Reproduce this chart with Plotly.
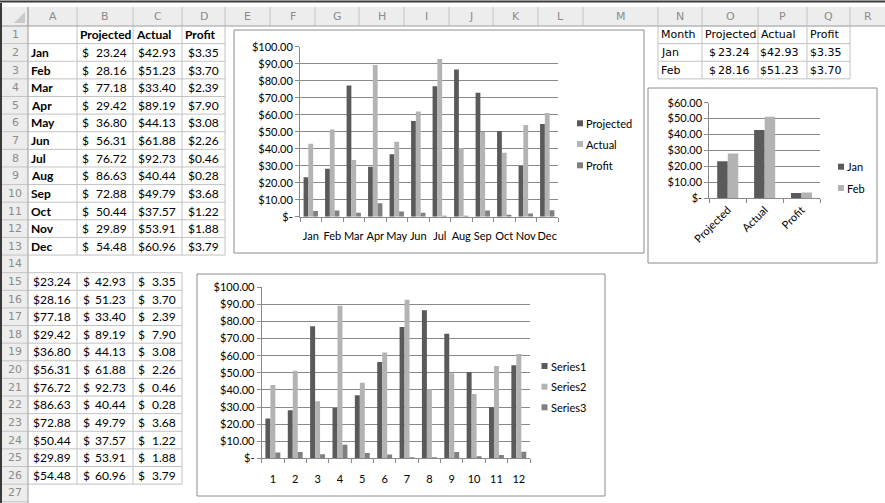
import plotly.graph_objects as go

W, H = 885, 503

# ---------------------------------------------------------------------------------
# data read from the sheet
# ---------------------------------------------------------------------------------
months = ["Jan", "Feb", "Mar", "Apr", "May", "Jun", "Jul", "Aug", "Sep", "Oct", "Nov", "Dec"]
projected = [23.24, 28.16, 77.18, 29.42, 36.80, 56.31, 76.72, 86.63, 72.88, 50.44, 29.89, 54.48]
actual = [42.93, 51.23, 33.40, 89.19, 44.13, 61.88, 92.73, 40.44, 49.79, 37.57, 53.91, 60.96]
profit = [3.35, 3.70, 2.39, 7.90, 3.08, 2.26, 0.46, 0.28, 3.68, 1.22, 1.88, 3.79]
measures = ["Projected", "Actual", "Profit"]
month_numbers = ["1", "2", "3", "4", "5", "6", "7", "8", "9", "10", "11", "12"]
series_names = ["Series1", "Series2", "Series3"]
col_letters = ["A", "B", "C", "D", "E", "F", "G", "H", "I", "J", "K", "L", "M", "N", "O", "P", "Q", "R"]
ticks_100 = [0, 10, 20, 30, 40, 50, 60, 70, 80, 90, 100]
ticks_60 = [0, 10, 20, 30, 40, 50, 60]

# ---------------------------------------------------------------------------------
# sheet geometry (pixels)
# ---------------------------------------------------------------------------------
col_edges = [2, 28, 77, 133, 182, 225, 270, 315, 359, 404, 449, 493, 538, 583, 658, 702, 758, 807, 850, 885]
HDR_TOP, ROW0, ROW_H = 7, 26, 17.62
CELL_FONT = "Lato"
NQ_FONT = "DejaVu Sans"
series_colors = ["#5a5a5a", "#b3b3b3", "#808080"]


def px(x):
    return x / W


def py(y):
    return 1 - y / H


def row_top(n):
    return ROW0 + (n - 1) * ROW_H


def row_mid(n):
    return row_top(n) + ROW_H / 2


shapes = []
annotations = []


def line(x0, y0, x1, y1, color, width=1):
    shapes.append(dict(type="line", xref="paper", yref="paper", x0=px(x0), y0=py(y0), x1=px(x1), y1=py(y1),
                       line=dict(color=color, width=width), layer="below"))


def rect(x0, y0, x1, y1, fill, color=None, width=0):
    shapes.append(dict(type="rect", xref="paper", yref="paper", x0=px(x0), y0=py(y0), x1=px(x1), y1=py(y1),
                       fillcolor=fill, line=dict(color=color or fill, width=width), layer="below"))


def text(x, y, s, anchor="left", size=12, color="#000000", weight="normal", family=CELL_FONT):
    annotations.append(dict(xref="paper", yref="paper", x=px(x), y=py(y), text=s, showarrow=False,
                            xanchor=anchor, yanchor="middle", borderpad=0,
                            font=dict(family=family, size=size, color=color, weight=weight)))


# ---------------------------------------------------------------------------------
# sheet frame: headers and borders
# ---------------------------------------------------------------------------------
rect(0, 0, W, H, "#ffffff")
line(0, 1.5, W, 1.5, "#3a3a3a", 2)
line(1, 3, 1, H, "#3a3a3a", 2)
rect(2, HDR_TOP, W, ROW0, "#ededed")
rect(2, ROW0, 28, H, "#ededed")
shapes.append(dict(type="path", xref="paper", yref="paper",
                   path=f"M {px(25)},{py(23)} L {px(25)},{py(12)} L {px(14)},{py(23)} Z",
                   fillcolor="#c9c9c9", line=dict(width=0), layer="below"))
for ce in col_edges[1:-1]:
    line(ce, HDR_TOP, ce, ROW0, "#c4c4c4")
for i, letter in enumerate(col_letters):
    text((col_edges[i + 1] + col_edges[i + 2]) / 2, (HDR_TOP + ROW0) / 2, letter, "center", 11, "#8c8c8c",
         family="DejaVu Sans")
for n in range(1, 28):
    line(2, row_top(n) + ROW_H, 28, row_top(n) + ROW_H, "#c4c4c4")
    text(15, row_mid(n), str(n), "center", 11, "#8c8c8c", family="DejaVu Sans")
line(2, ROW0, W, ROW0, "#9c9c9c")
line(28, HDR_TOP, 28, H, "#9c9c9c")

border = "#c2c2c2"
# A1:D13
for n in range(1, 14):
    line(28, row_top(n) + ROW_H, 225, row_top(n) + ROW_H, border)
for ce in [77, 133, 182, 225]:
    line(ce, ROW0, ce, row_top(14), border)
# A15:C26
for n in range(14, 27):
    line(28, row_top(n) + ROW_H, 182, row_top(n) + ROW_H, border)
for ce in [77, 133, 182]:
    line(ce, row_top(15), ce, row_top(27), border)
# N1:Q3
for n in range(0, 4):
    line(658, ROW0 + n * ROW_H, 850, ROW0 + n * ROW_H, border)
for ce in [658, 702, 758, 807, 850]:
    line(ce, ROW0, ce, row_top(4), border)

# ---------------------------------------------------------------------------------
# cell contents
# ---------------------------------------------------------------------------------
for lbl, x in zip(measures, [79, 135, 184]):
    text(x, row_mid(1), lbl, "left", 12, weight="bold")
for i, m in enumerate(months):
    r = i + 2
    text(30, row_mid(r), m, "left", 12, weight="bold")
    text(81, row_mid(r), "$", "left", 12)
    text(128, row_mid(r), f"{projected[i]:.2f}", "right", 12)
    text(177, row_mid(r), f"${actual[i]:.2f}", "right", 12)
    text(220, row_mid(r), f"${profit[i]:.2f}", "right", 12)
for i in range(12):
    r = i + 15
    text(72, row_mid(r), f"${projected[i]:.2f}", "right", 12)
    text(82, row_mid(r), "$", "left", 12)
    text(127, row_mid(r), f"{actual[i]:.2f}", "right", 12)
    text(137, row_mid(r), "$", "left", 12)
    text(177, row_mid(r), f"{profit[i]:.2f}", "right", 12)
for lbl, x in zip(["Month"] + measures, [660, 704, 760, 809]):
    text(x, row_mid(1), lbl, "left", 11, family=NQ_FONT)
for i in range(2):
    r = i + 2
    text(660, row_mid(r), months[i], "left", 11, family=NQ_FONT)
    text(708, row_mid(r), "$", "left", 11, family=NQ_FONT)
    text(751, row_mid(r), f"{projected[i]:.2f}", "right", 11, family=NQ_FONT)
    text(800, row_mid(r), f"${actual[i]:.2f}", "right", 11, family=NQ_FONT)
    text(843, row_mid(r), f"${profit[i]:.2f}", "right", 11, family=NQ_FONT)

# ---------------------------------------------------------------------------------
# charts
# ---------------------------------------------------------------------------------
GRID = "#8a8a8a"
CHART_FONT = dict(family="Lato", size=11, color="#000000")

fig = go.Figure()


def add_group(xs, values_list, names, xa, ya, gap):
    n = len(values_list)
    w = 1 / (n + gap)
    for k, (vals, name) in enumerate(zip(values_list, names)):
        fig.add_trace(go.Bar(x=xs, y=vals, name=name, xaxis=xa, yaxis=ya, width=w,
                             offset=-n * w / 2 + k * w, marker=dict(color=series_colors[k], line=dict(width=0)),
                             showlegend=False))


def chart_box(x0, y0, x1, y1):
    rect(x0, y0, x1, y1, "#ffffff", "#8c8c8c", 1)


def legend(x, ys, names):
    for k, (yy, name) in enumerate(zip(ys, names)):
        rect(x, yy - 3, x + 6, yy + 3, series_colors[k])
        text(x + 8, yy, name, "left", 11, family="Lato")


def y_ticks(vals):
    return [("$-" if v == 0 else f"${v:.2f}") for v in vals]


axis_common = dict(showline=True, linecolor=GRID, linewidth=1, ticks="outside", tickcolor=GRID, ticklen=4,
                   tickfont=CHART_FONT, fixedrange=True, automargin=False)

# chart 1: by month
chart_box(234, 30, 644, 253)
add_group(months, [projected, actual, profit], measures, "x", "y", 1.5)
legend(577, [123.3, 144, 165.3], measures)
# chart 2: by number
chart_box(197, 274, 605, 496)
add_group(month_numbers, [projected, actual, profit], series_names, "x2", "y2", 1.5)
legend(541.5, [366, 386.7, 407.3], series_names)
# chart 3: Jan / Feb by measure
chart_box(648, 88, 877, 263)
jan = [projected[0], actual[0], profit[0]]
feb = [projected[1], actual[1], profit[1]]
add_group(measures, [jan, feb], months[:2], "x3", "y3", 1.5)
legend(838, [166.7, 188], months[:2])

fig.update_layout(
    width=W, height=H, margin=dict(l=0, r=0, t=0, b=0, pad=0, autoexpand=False),
    paper_bgcolor="#ffffff", plot_bgcolor="rgba(0,0,0,0)",
    barmode="overlay", showlegend=False, hovermode=False,
    shapes=shapes, annotations=annotations,
    xaxis=dict(domain=[px(300), px(558)], anchor="y", type="category", tickson="boundaries", tickangle=0,
               ticklabelstandoff=9, **axis_common),
    yaxis=dict(domain=[py(216.7), py(46.7)], anchor="x", range=[0, 100], tickvals=ticks_100,
               ticktext=y_ticks(ticks_100), showgrid=True, gridcolor=GRID, **axis_common),
    xaxis2=dict(domain=[px(261.7), px(530)], anchor="y2", type="category", tickson="boundaries", tickangle=0,
                ticklabelstandoff=10, **axis_common),
    yaxis2=dict(domain=[py(458.3), py(287.3)], anchor="x2", range=[0, 100], tickvals=ticks_100,
                ticktext=y_ticks(ticks_100), showgrid=True, gridcolor=GRID, **axis_common),
    xaxis3=dict(domain=[px(709.3), px(820)], anchor="y3", type="category", tickson="boundaries", tickangle=-45,
                **axis_common),
    yaxis3=dict(domain=[py(198.3), py(102.7)], anchor="x3", range=[0, 60], tickvals=ticks_60,
                ticktext=y_ticks(ticks_60), showgrid=True, gridcolor=GRID, **axis_common),
)

# the page body has a default 8px margin; drop it so the sheet sits at the window corner
fig.write_html("out.html", config={"displayModeBar": False},
               post_script="document.body.style.margin = '0';")
